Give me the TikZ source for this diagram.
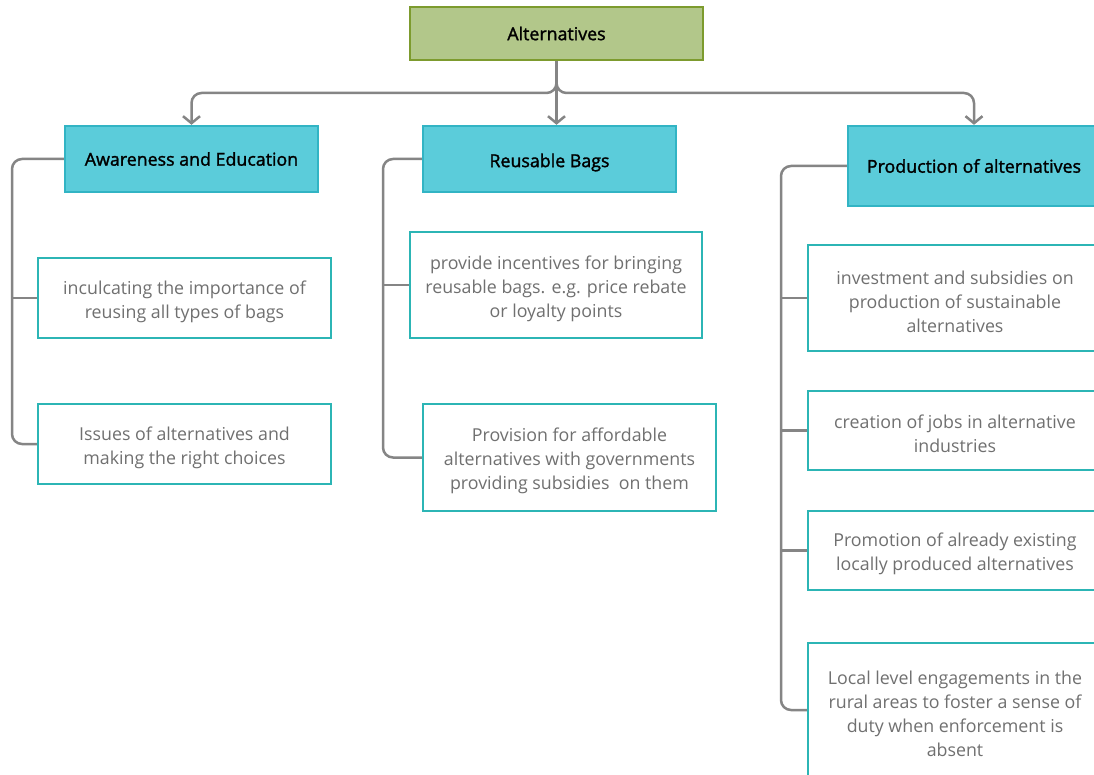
\documentclass[tikz,border=0pt]{standalone}
\usepackage{fontspec}
\setmainfont{Open Sans}
\newfontfamily\headfont{Open Sans}[FakeBold=1.6]
\usetikzlibrary{arrows.meta}
\definecolor{rootfill}{HTML}{B2C78A}
\definecolor{rootline}{HTML}{7D9B2E}
\definecolor{headfill}{HTML}{5BCCDA}
\definecolor{headline}{HTML}{32B4C4}
\definecolor{leafline}{HTML}{2CB5B5}
\definecolor{leaftext}{HTML}{707070}
\definecolor{connline}{HTML}{858585}
% taller first line so leaf text sits a little lower in its box
\newcommand\topgap{\rule{0pt}{20.5pt}}
\tikzset{
  rootbox/.style={draw=rootline, fill=rootfill, line width=2.4pt, inner sep=0pt,
    minimum width=293pt, minimum height=53pt, font=\headfont\fontsize{17.8}{24}\selectfont},
  headbox/.style={draw=headline, fill=headfill, line width=2.4pt, inner sep=0pt,
    minimum width=253pt, minimum height=66pt, font=\headfont\fontsize{17.8}{24}\selectfont},
  leafbox/.style={draw=leafline, fill=white, line width=2.4pt, inner sep=0pt,
    minimum width=293pt, align=center, text=leaftext, font=\fontsize{17.8}{24}\selectfont},
  conn/.style={draw=connline, line width=2.5pt, rounded corners=10pt},
  tip/.style={-{Straight Barb[length=7pt,width=17pt]}}
}
\begin{document}
\begin{tikzpicture}[x=1pt,y=-1pt]
\clip (0,0) rectangle (1094,775);
\fill[white] (0,0) rectangle (1094,775);

% boxes
\node[rootbox] (alt) at (556.5,33.5) {Alternatives};
\node[headbox] (aware) at (191.5,159) {Awareness and Education};
\node[headbox] (reuse) at (549.5,159) {\topgap Reusable Bags};
\node[headbox, minimum width=252pt, minimum height=80pt] (prod) at (974,166) {Production of alternatives};

\node[leafbox, minimum height=80pt] (inc) at (184.5,298) {\topgap inculcating the importance of\\reusing all types of bags};
\node[leafbox, minimum height=80pt] (iss) at (184.5,444) {\topgap Issues of alternatives and\\making the right choices};

\node[leafbox, minimum width=292pt, minimum height=106pt] (incent) at (556,285) {\topgap provide incentives for bringing\\reusable bags. e.g. price rebate\\or loyalty points};
\node[leafbox, minimum height=107pt] (afford) at (569.5,457.5) {\topgap Provision for affordable\\alternatives with governments\\providing subsidies\ \ on them};

\node[leafbox, minimum width=294pt, minimum height=106pt] (invest) at (955,298) {\topgap investment and subsidies on\\production of sustainable\\alternatives};
\node[leafbox, minimum width=294pt, minimum height=79pt] (jobs) at (955,430.5) {\topgap creation of jobs in alternative\\industries};
\node[leafbox, minimum width=294pt, minimum height=79pt] (promo) at (955,550.5) {\topgap Promotion of already existing\\locally produced alternatives};
\node[leafbox, minimum width=294pt, minimum height=134pt] (local) at (955,710) {\topgap Local level engagements in the\\rural areas to foster a sense of\\duty when enforcement is\\absent};

% root to headers
\coordinate (split) at (556,93);
\draw[conn, tip] (alt.south) -- (alt.south |- reuse.north);
\draw[conn, tip] (alt.south) -- (alt.south |- split) -| (aware.north);
\draw[conn, tip] (alt.south) -- (alt.south |- split) -| (prod.north);

% brackets
\coordinate (lx) at (12,0);
\coordinate (mx) at (383,0);
\coordinate (rx) at (781,0);
\draw[conn] (aware.west) -- (aware.west -| lx) |- (iss.west);
\draw[conn] (inc.west) -- (inc.west -| lx);

\draw[conn] (reuse.west) -- (reuse.west -| mx) |- (afford.west);
\draw[conn] (incent.west) -- (incent.west -| mx);

\draw[conn] (prod.west) -- (prod.west -| rx) |- (local.west);
\draw[conn] (invest.west) -- (invest.west -| rx);
\draw[conn] (jobs.west) -- (jobs.west -| rx);
\draw[conn] (promo.west) -- (promo.west -| rx);
\end{tikzpicture}
\end{document}
